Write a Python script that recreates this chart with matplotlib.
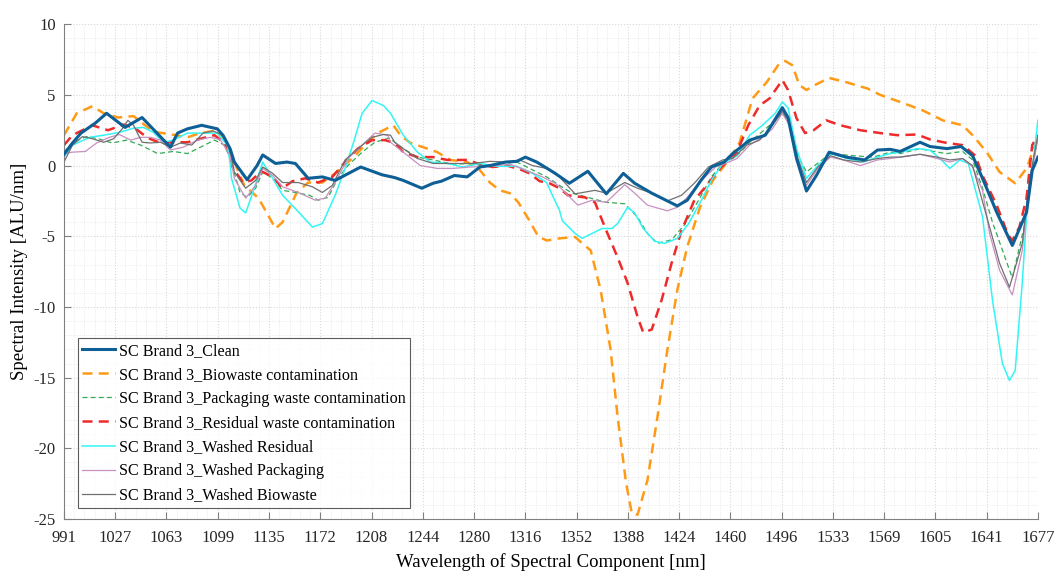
import matplotlib.pyplot as plt
import numpy as np
from matplotlib.ticker import AutoMinorLocator

# wavelength [nm] / intensity [ALU/nm]
clean_wl = [991, 997, 1003, 1013, 1021, 1034, 1046, 1056, 1066, 1071, 1078, 1088, 1099, 1103,
            1108, 1111, 1120, 1127, 1131, 1140, 1148, 1154, 1163, 1173, 1182, 1200, 1215,
            1224, 1230, 1243, 1251, 1257, 1266, 1275, 1284, 1291, 1302, 1310, 1316, 1324,
            1333, 1337, 1347, 1360, 1373, 1385, 1393, 1405, 1412, 1423, 1430, 1440, 1447,
            1456, 1462, 1474, 1485, 1497, 1501, 1507, 1514, 1521, 1530, 1542, 1555, 1564,
            1573, 1580, 1594, 1601, 1613, 1623, 1631, 1638, 1648, 1659, 1669, 1673, 1677]
clean_y = [0.8, 1.6, 2.3, 3.0, 3.7, 2.7, 3.4, 2.35, 1.3, 2.3, 2.6, 2.85, 2.6, 2.15,
           1.2, 0.25, -1.0, 0.0, 0.75, 0.15, 0.25, 0.15, -0.9, -0.8, -1.05, -0.1, -0.65,
           -0.85, -1.05, -1.6, -1.25, -1.1, -0.7, -0.8, -0.1, 0.0, 0.25, 0.3, 0.6, 0.25,
           -0.3, -0.55, -1.25, -0.4, -2.0, -0.55, -1.25, -1.95, -2.3, -2.85, -2.45, -1.0, -0.1,
           0.25, 0.85, 1.8, 2.15, 4.1, 3.4, 0.5, -1.8, -0.7, 0.95, 0.6, 0.4, 1.1,
           1.15, 1.0, 1.65, 1.35, 1.2, 1.35, 0.7, -0.9, -3.3, -5.65, -3.3, -0.35, 0.6]

bio_wl = [991, 1000, 1011, 1019, 1029, 1040, 1050, 1057, 1067, 1078, 1087, 1097, 1103, 1108,
          1118, 1128, 1140, 1145, 1155, 1163, 1173, 1182, 1194, 1203, 1212, 1223, 1228,
          1235, 1244, 1254, 1263, 1275, 1283, 1291, 1298, 1305, 1311, 1318, 1325, 1331,
          1340, 1351, 1359, 1362, 1369, 1376, 1381, 1387, 1391, 1395, 1402, 1409, 1416,
          1423, 1430, 1439, 1448, 1460, 1467, 1476, 1486, 1494, 1499, 1504, 1509, 1514,
          1521, 1530, 1542, 1557, 1566, 1580, 1596, 1610, 1624, 1631, 1641, 1650, 1661,
          1669, 1675, 1677]
bio_y = [2.15, 3.7, 4.2, 3.7, 3.4, 3.5, 2.7, 2.35, 2.2, 2.0, 2.3, 2.45, 2.0, 0.95,
         -1.4, -2.3, -4.45, -4.0, -1.9, -1.2, -1.2, -0.55, 0.5, 1.45, 2.3, 2.85, 2.15,
         1.6, 1.3, 0.95, 0.4, 0.25, -0.2, -1.2, -1.75, -1.95, -2.6, -3.75, -5.0, -5.3,
         -5.15, -5.05, -5.75, -6.0, -8.8, -13.0, -17.8, -22.5, -24.6, -24.7, -22.25, -17.8, -13.05,
         -8.8, -5.75, -2.95, -1.05, 0.5, 1.65, 4.75, 5.9, 7.1, 7.4, 7.1, 5.7, 5.35,
         5.75, 6.2, 5.9, 5.45, 5.0, 4.5, 3.9, 3.2, 2.85, 2.15, 0.95, -0.45, -1.25,
         -0.2, 1.45, 1.8]

pack_wl = [991, 997, 1007, 1015, 1025, 1035, 1045, 1057, 1068, 1078, 1087, 1097, 1104, 1108,
           1115, 1120, 1126, 1131, 1138, 1145, 1154, 1164, 1170, 1177, 1184, 1191, 1201,
           1210, 1220, 1230, 1240, 1251, 1265, 1277, 1289, 1300, 1310, 1319, 1331, 1340,
           1349, 1360, 1373, 1386, 1395, 1402, 1409, 1419, 1428, 1438, 1447, 1455, 1465,
           1474, 1484, 1492, 1497, 1502, 1508, 1514, 1523, 1531, 1547, 1561, 1573, 1580,
           1594, 1606, 1613, 1624, 1631, 1638, 1645, 1659, 1669, 1673, 1677]
pack_y = [0.95, 1.65, 2.05, 1.9, 1.6, 1.8, 1.45, 0.85, 1.0, 0.85, 1.3, 1.8, 1.45, 0.5,
          -1.9, -2.25, -1.6, -0.45, -0.9, -1.75, -1.9, -2.1, -2.45, -2.25, -0.9, 0.0, 0.95,
          1.65, 1.95, 1.2, 0.6, 0.4, 0.1, 0.15, -0.05, 0.15, 0.25, -0.2, -0.8, -1.4,
          -1.95, -2.25, -2.6, -2.7, -3.65, -4.8, -5.5, -5.25, -4.2, -2.45, -0.8, 0.15, 0.7,
          1.65, 2.5, 3.2, 3.75, 3.05, 0.7, -0.45, 0.25, 0.85, 0.7, 0.6, 0.95, 0.85,
          1.2, 0.95, 0.85, 1.0, 0.4, -1.6, -4.0, -7.95, -3.6, -0.35, 2.0]

resid_wl = [991, 997, 1011, 1022, 1033, 1041, 1050, 1059, 1068, 1078, 1089, 1097, 1104, 1108,
            1109, 1117, 1123, 1130, 1138, 1145, 1152, 1161, 1170, 1180, 1189, 1198, 1208,
            1217, 1224, 1230, 1240, 1251, 1261, 1275, 1284, 1293, 1303, 1312, 1319, 1326,
            1333, 1340, 1346, 1358, 1365, 1373, 1381, 1388, 1395, 1399, 1405, 1412, 1419,
            1426, 1435, 1445, 1454, 1465, 1473, 1481, 1488, 1497, 1501, 1507, 1513, 1519,
            1528, 1538, 1552, 1566, 1578, 1592, 1601, 1613, 1624, 1633, 1638, 1648, 1656,
            1659, 1664, 1669, 1673, 1677]
resid_y = [1.45, 2.15, 2.85, 2.5, 2.9, 2.65, 1.95, 1.6, 1.65, 1.65, 1.95, 2.15, 1.6, 0.9,
           0.0, -1.2, -1.05, -0.4, -0.8, -1.6, -1.1, -0.9, -1.2, -0.8, 0.25, 1.2, 1.8,
           1.8, 1.6, 0.95, 0.6, 0.6, 0.4, 0.4, 0.1, -0.1, 0.0, -0.25, -0.55, -1.1,
           -1.25, -1.6, -2.1, -2.25, -2.6, -4.6, -6.5, -8.3, -10.7, -11.8, -11.6, -9.5, -6.9,
           -4.6, -2.45, -1.25, -0.1, 0.95, 2.85, 4.25, 4.75, 6.05, 5.35, 3.35, 2.3, 2.5,
           3.2, 2.85, 2.5, 2.3, 2.15, 2.2, 1.85, 1.6, 1.45, 0.7, -0.7, -2.8, -4.9,
           -5.3, -4.35, -2.3, 1.45, 2.15]

wres_wl = [991, 997, 1009, 1019, 1030, 1040, 1047, 1054, 1061, 1068, 1078, 1089, 1099, 1106,
           1108, 1109, 1115, 1119, 1124, 1131, 1138, 1145, 1155, 1166, 1173, 1182, 1189,
           1195, 1201, 1208, 1216, 1221, 1230, 1240, 1249, 1261, 1272, 1284, 1296, 1310,
           1321, 1331, 1335, 1340, 1342, 1351, 1356, 1363, 1370, 1377, 1381, 1388, 1393,
           1399, 1407, 1414, 1423, 1431, 1440, 1447, 1455, 1465, 1474, 1483, 1492, 1497,
           1501, 1507, 1514, 1522, 1531, 1543, 1554, 1564, 1573, 1580, 1592, 1601, 1608,
           1615, 1622, 1628, 1634, 1638, 1645, 1652, 1657, 1661, 1666, 1669, 1673, 1677]
wres_y = [0.6, 1.45, 2.0, 2.15, 2.35, 2.65, 2.7, 2.35, 1.65, 1.8, 2.3, 2.3, 2.3, 1.45,
          0.25, -0.9, -3.0, -3.35, -1.9, 0.25, -0.9, -2.1, -3.15, -4.35, -4.1, -2.1, -0.2,
          1.65, 3.7, 4.6, 4.25, 3.7, 2.15, 0.95, 0.25, 0.15, -0.1, 0.15, -0.05, -0.05,
          -0.55, -1.2, -2.1, -3.15, -3.9, -4.8, -5.15, -4.8, -4.45, -4.45, -4.1, -2.95, -3.35,
          -4.45, -5.35, -5.5, -5.15, -4.1, -2.45, -1.05, 0.15, 0.7, 2.15, 2.85, 3.7, 4.5,
          4.1, 1.2, -0.9, 0.0, 0.85, 0.5, 0.25, 0.6, 0.85, 0.95, 1.2, 1.1, 0.5,
          -0.2, 0.4, 0.15, -2.1, -3.6, -9.5, -14.0, -15.2, -14.5, -8.3, -3.6, -0.35, 3.2]

wpack_wl = [991, 997, 1006, 1014, 1023, 1030, 1038, 1045, 1052, 1059, 1066, 1075, 1085, 1094,
            1101, 1108, 1111, 1119, 1126, 1131, 1138, 1145, 1156, 1168, 1175, 1182, 1191,
            1201, 1210, 1219, 1221, 1230, 1242, 1254, 1265, 1277, 1291, 1305, 1317, 1328,
            1337, 1340, 1346, 1353, 1363, 1373, 1386, 1393, 1402, 1416, 1423, 1430, 1440,
            1450, 1457, 1465, 1474, 1483, 1490, 1497, 1502, 1508, 1514, 1522, 1531, 1540,
            1552, 1564, 1573, 1580, 1594, 1606, 1615, 1624, 1631, 1638, 1643, 1650, 1659,
            1666, 1671, 1677]
wpack_y = [0.85, 0.95, 1.0, 1.6, 2.0, 2.2, 1.8, 2.0, 2.0, 1.8, 1.1, 1.3, 1.8, 2.0,
           1.85, 0.7, -0.9, -2.3, -1.4, -0.2, -0.7, -1.5, -1.9, -2.45, -2.3, -1.2, 0.5,
           1.45, 2.3, 2.15, 1.65, 0.95, 0.0, -0.2, -0.2, -0.1, -0.05, 0.1, -0.35, -0.8,
           -1.25, -1.5, -2.1, -2.8, -2.45, -2.6, -1.35, -1.95, -2.8, -3.2, -2.95, -2.25, -1.05,
           -0.1, 0.15, 0.5, 1.45, 2.0, 2.6, 3.7, 2.85, 0.25, -1.4, -0.2, 0.6, 0.4,
           0.0, 0.4, 0.5, 0.6, 0.8, 0.5, 0.25, 0.5, -0.1, -1.75, -4.8, -7.4, -9.15,
           -6.0, -1.25, 1.9]

wbio_wl = [991, 997, 1004, 1011, 1019, 1026, 1032, 1036, 1040, 1046, 1052, 1059, 1066, 1073,
           1081, 1089, 1096, 1103, 1108, 1111, 1119, 1126, 1131, 1138, 1145, 1156, 1166,
           1173, 1180, 1189, 1198, 1208, 1216, 1221, 1224, 1230, 1240, 1251, 1265, 1279,
           1291, 1303, 1312, 1321, 1331, 1340, 1351, 1365, 1373, 1386, 1395, 1405, 1416,
           1426, 1435, 1445, 1455, 1462, 1472, 1481, 1490, 1497, 1502, 1508, 1514, 1522,
           1531, 1540, 1552, 1564, 1573, 1580, 1594, 1606, 1615, 1624, 1631, 1643, 1650,
           1657, 1666, 1671, 1677]
wbio_y = [0.25, 1.45, 2.05, 1.9, 1.65, 1.9, 2.6, 3.2, 2.85, 1.65, 1.6, 1.65, 1.3, 1.6,
          1.45, 2.3, 2.45, 2.15, 1.2, -0.45, -1.6, -1.05, -0.1, -0.55, -1.2, -1.2, -1.5,
          -1.9, -1.4, 0.4, 1.2, 2.0, 2.2, 2.15, 1.65, 1.2, 0.5, 0.15, 0.15, 0.15,
          0.3, 0.25, 0.4, 0.0, -0.2, -0.8, -2.0, -1.75, -1.95, -1.2, -1.6, -1.95, -2.5,
          -2.1, -1.25, -0.1, 0.4, 0.5, 1.45, 1.8, 2.85, 3.85, 3.05, 0.5, -1.2, -0.1,
          0.7, 0.4, 0.25, 0.5, 0.6, 0.6, 0.8, 0.6, 0.4, 0.5, 0.0, -4.35, -6.9,
          -8.6, -5.5, -1.05, 2.15]

xtick_labels = ['991', '1027', '1063', '1099', '1135', '1172', '1208', '1244', '1280', '1316',
                '1352', '1388', '1424', '1460', '1496', '1533', '1569', '1605', '1641', '1677']

plt.rcParams['font.family'] = ['Liberation Serif', 'DejaVu Serif']
plt.rcParams['axes.unicode_minus'] = False

fig = plt.figure(figsize=(10.54, 5.74), dpi=100)
ax = fig.add_axes([0.0607, 0.0958, 0.924, 0.862])

ax.plot(clean_wl, clean_y, color='#0e5f95', lw=2.2, label='SC Brand 3_Clean', zorder=8)
ax.plot(bio_wl, bio_y, color='#ff9a16', lw=1.8, ls=(0, (4, 2.5)), label='SC Brand 3_Biowaste contamination')
ax.plot(pack_wl, pack_y, color='#33aa55', lw=0.9, ls=(0, (4, 2.5)), label='SC Brand 3_Packaging waste contamination')
ax.plot(resid_wl, resid_y, color='#ee2a2a', lw=1.8, ls=(0, (4, 2.5)), label='SC Brand 3_Residual waste contamination')
ax.plot(wres_wl, wres_y, color='#33f5f5', lw=1.1, label='SC Brand 3_Washed Residual')
ax.plot(wpack_wl, wpack_y, color='#c890c0', lw=0.9, label='SC Brand 3_Washed Packaging')
ax.plot(wbio_wl, wbio_y, color='#707070', lw=0.9, label='SC Brand 3_Washed Biowaste')

ax.set_xlim(991, 1677)
ax.set_ylim(-25, 10)
ax.set_xticks(np.linspace(991, 1677, 20))
ax.set_xticklabels(xtick_labels)
ax.set_yticks(np.arange(-25, 11, 5))
ax.xaxis.set_minor_locator(AutoMinorLocator(5))
ax.yaxis.set_minor_locator(AutoMinorLocator(5))
ax.grid(which='major', color='#d8d8d8', ls=':', lw=0.8)
ax.grid(which='minor', color='#e4e4e4', ls=':', lw=0.6)
ax.tick_params(which='both', direction='in', labelsize=12, colors='#262626')
ax.tick_params(which='minor', length=0)
ax.tick_params(which='major', length=5, color='#808080')
ax.tick_params(axis='x', which='major', pad=8)
ax.tick_params(axis='y', which='major', pad=6)
for s in ['top', 'right']:
    ax.spines[s].set_visible(False)
for s in ['left', 'bottom']:
    ax.spines[s].set_color('#808080')

ax.set_xlabel('Wavelength of Spectral Component [nm]', fontsize=13.5, labelpad=5)
ax.set_ylabel('Spectral Intensity [ALU/nm]', fontsize=13.5, labelpad=4)

leg = ax.legend(loc='lower left', bbox_to_anchor=(0.014, 0.022), fontsize=11.6, frameon=True,
                fancybox=False, edgecolor='#333333', handlelength=2.0, handletextpad=0.25,
                labelspacing=0.5, borderpad=0.3, borderaxespad=0)
leg.get_frame().set_linewidth(0.8)

fig.savefig('out.png', dpi=100)
